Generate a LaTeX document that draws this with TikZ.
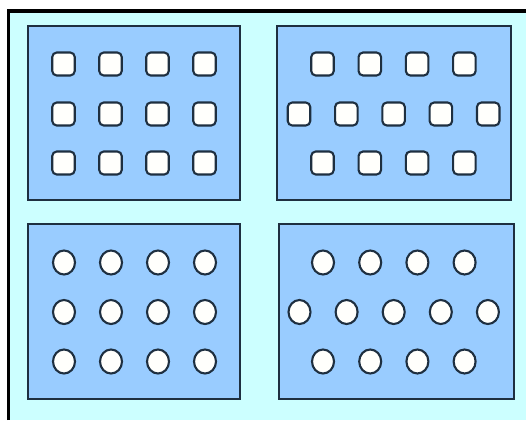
\documentclass[tikz,border=0pt]{standalone}
\usepackage{xcolor}
\usetikzlibrary{shapes.geometric, positioning}

\definecolor{backcyan}{HTML}{CCFFFF}
\definecolor{panelblue}{HTML}{99CCFF}
\definecolor{edgeblue}{HTML}{1E2F40}
\definecolor{keyface}{HTML}{FFFFFC}

\tikzset{
  panel/.style={draw=edgeblue, fill=panelblue, line width=1.6pt, rectangle, inner sep=0pt},
  sqkey/.style={draw=edgeblue, fill=keyface, line width=2.1pt, rectangle, rounded corners=4.5pt,
    minimum width=22.5pt, minimum height=23pt, inner sep=0pt},
  rdkey/.style={draw=edgeblue, fill=keyface, line width=2.1pt, ellipse,
    minimum width=22pt, minimum height=24pt, inner sep=0pt}
}

\begin{document}
\begin{tikzpicture}[x=1pt, y=-1pt]
  \useasboundingbox (0,0) rectangle (526,420);
  % frame
  \fill[backcyan] (10,12) rectangle (526,420);
  \draw[black, line width=3.4pt] (8.5,420) -- (8.5,11) -- (526,11);

  % the four panels
  \node[panel, minimum width=212pt, minimum height=174pt] (tl) at (134,113) {};
  \node[panel, minimum width=234pt, minimum height=174pt] (tr) at (394,113) {};
  \node[panel, minimum width=212pt, minimum height=175pt] (bl) at (134,311.5) {};
  \node[panel, minimum width=235pt, minimum height=175pt] (br) at (396.5,311.5) {};

  % square keys
  \foreach \r/\y in {1/64, 2/114, 3/163}
    \foreach \c in {0,...,3}
      \node[sqkey] (tl-\r-\c) at (63.5+47*\c, \y) {};
  \foreach \c in {0,...,3} {
    \node[sqkey] (tr-1-\c) at (322.5+47.3*\c, 64) {};
    \node[sqkey] (tr-3-\c) at (322.5+47.3*\c, 163) {};
  }
  \foreach \c in {0,...,4}
    \node[sqkey] (tr-2-\c) at (299+47.3*\c, 114) {};

  % round keys
  \foreach \r/\y in {1/262.5, 2/312, 3/361.5}
    \foreach \c in {0,...,3}
      \node[rdkey] (bl-\r-\c) at (64+47*\c, \y) {};
  \foreach \c in {0,...,3} {
    \node[rdkey] (br-1-\c) at (323+47.2*\c, 262.5) {};
    \node[rdkey] (br-3-\c) at (323+47.2*\c, 361.5) {};
  }
  \foreach \c in {0,...,4}
    \node[rdkey] (br-2-\c) at (299.5+47.1*\c, 312) {};
\end{tikzpicture}
\end{document}
